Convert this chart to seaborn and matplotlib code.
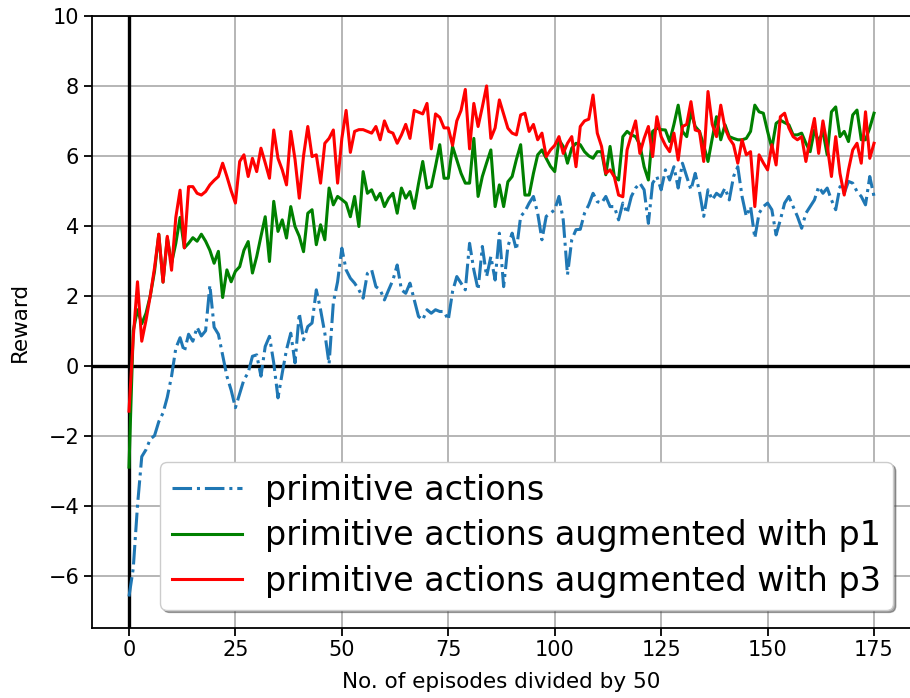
import matplotlib
matplotlib.use("Agg")
import matplotlib.pyplot as plt
import seaborn as sns
import pandas as pd
import numpy as np

episodes = list(range(176))

primitive = [
    -6.6, -5.8, -4.0, -2.6, -2.4, -2.1, -2.0, -1.6, -1.35, -0.9,
    -0.3, 0.5, 0.8, 0.4, 0.9, 0.7, 1.1, 0.85, 1.0, 2.3,
    1.1, 0.9, 0.3, -0.3, -0.7, -1.2, -0.8, -0.4, -0.2, 0.27,
    0.31, -0.3, 0.55, 0.84, 0.08, -0.92, -0.21, 0.46, 0.93, 0.08,
    1.5, 0.74, 1.12, 1.22, 2.17, 1.6, 0.93, 0.05, 1.8, 2.4,
    3.36, 2.74, 2.5, 2.36, 2.17, 1.93, 2.64, 2.74, 2.26, 2.17,
    1.88, 2.17, 2.45, 2.88, 2.17, 2.07, 2.36, 1.88, 1.41, 1.31,
    1.6, 1.5, 1.6, 1.55, 1.55, 1.31, 2.12, 2.55, 2.36, 2.17,
    3.5, 2.74, 2.17, 3.41, 2.55, 3.12, 2.45, 3.79, 2.26, 3.41,
    3.79, 3.31, 4.27, 4.41, 4.65, 4.84, 4.36, 3.6, 4.27, 4.36,
    4.46, 4.84, 4.17, 2.6, 3.6, 3.89, 3.9, 4.36, 4.6, 4.93,
    4.69, 4.65, 4.84, 4.55, 4.55, 4.17, 4.65, 4.36, 4.84, 5.08,
    5.22, 5.03, 4.07, 5.22, 5.41, 5.03, 5.6, 5.31, 5.69, 5.08,
    5.79, 5.41, 5.03, 5.5, 4.98, 4.27, 5.03, 4.74, 4.93, 4.84,
    5.08, 4.74, 5.41, 5.69, 4.84, 4.27, 4.55, 3.65, 4.36, 4.55,
    4.65, 4.46, 3.74, 4.17, 4.65, 4.84, 4.55, 4.27, 3.93, 4.36,
    4.55, 4.74, 5.12, 4.93, 5.08, 4.74, 4.46, 5.12, 4.93, 5.27,
    5.22, 4.98, 4.84, 4.6, 5.41, 4.84,
]

aug_p1 = [
    -2.9, 1.0, 1.6, 1.2, 1.5, 2.0, 2.7, 3.76, 2.39, 3.66,
    2.93, 3.5, 4.24, 3.37, 3.5, 3.66, 3.56, 3.76, 3.56, 3.3,
    2.93, 3.27, 1.95, 2.74, 2.4, 2.7, 2.83, 3.3, 3.55, 2.65,
    3.12, 3.7, 4.26, 2.98, 4.7, 3.84, 4.17, 3.65, 4.55, 3.98,
    3.7, 3.26, 4.36, 4.46, 3.46, 4.03, 3.6, 5.08, 4.6, 4.84,
    4.75, 4.65, 4.26, 4.84, 3.98, 5.55, 4.93, 5.03, 4.74, 4.93,
    4.55, 4.79, 4.93, 4.36, 5.08, 4.79, 4.98, 4.5, 5.2, 5.84,
    5.08, 5.12, 5.7, 6.32, 5.36, 5.36, 6.27, 5.88, 5.5, 5.22,
    5.22, 6.5, 4.84, 5.41, 5.8, 6.17, 4.55, 5.17, 4.55, 5.26,
    5.41, 5.9, 6.32, 4.88, 4.88, 5.5, 6.03, 6.17, 5.93, 5.7,
    5.55, 6.46, 6.27, 5.79, 6.22, 6.36, 6.32, 6.12, 6.0, 5.93,
    6.12, 6.12, 5.46, 6.27, 5.41, 5.31, 6.55, 6.7, 6.6, 6.55,
    6.32, 5.69, 5.31, 6.7, 6.79, 6.75, 6.74, 6.41, 6.9, 7.45,
    6.7, 6.55, 7.26, 6.84, 6.7, 6.3, 5.84, 6.5, 7.12, 6.46,
    6.89, 6.55, 6.5, 6.46, 6.46, 6.5, 6.7, 7.45, 7.26, 7.22,
    6.7, 6.22, 6.93, 7.02, 6.95, 6.89, 6.6, 6.6, 6.65, 6.36,
    6.12, 6.74, 6.41, 6.7, 6.03, 7.26, 7.4, 6.55, 6.7, 6.41,
    7.17, 7.31, 6.46, 6.46, 6.8, 7.22,
]

aug_p3 = [
    -1.3, 0.8, 2.4, 0.7, 1.3, 2.0, 2.8, 3.76, 2.39, 3.7,
    2.73, 4.24, 5.02, 3.37, 5.12, 5.12, 4.93, 4.88, 4.98, 5.17,
    5.3, 5.41, 5.79, 5.41, 5.0, 4.65, 5.84, 6.03, 5.41, 5.93,
    5.55, 6.22, 5.8, 5.36, 6.74, 5.93, 5.6, 5.17, 6.7, 5.9,
    4.79, 6.0, 6.84, 5.98, 6.03, 5.22, 6.36, 6.5, 6.74, 5.22,
    6.5, 7.3, 6.1, 6.7, 6.75, 6.75, 6.7, 6.65, 6.84, 6.46,
    7.0, 6.7, 6.65, 6.36, 6.6, 6.9, 6.5, 7.3, 7.25, 7.2,
    7.5, 6.2, 7.2, 7.1, 6.8, 6.8, 6.3, 7.0, 7.3, 7.9,
    6.2, 7.5, 6.84, 7.4, 8.0, 6.5, 6.8, 7.6, 7.2, 6.79,
    6.65, 6.6, 7.17, 7.22, 6.7, 6.9, 6.46, 6.65, 5.98, 6.17,
    6.3, 6.55, 6.07, 6.36, 6.55, 5.69, 6.84, 7.0, 7.05, 7.74,
    6.65, 6.27, 5.5, 5.6, 5.4, 4.88, 4.83, 6.17, 6.6, 7.0,
    6.07, 6.5, 6.84, 5.98, 7.12, 6.55, 6.3, 6.12, 6.65, 5.88,
    6.84, 6.9, 7.55, 6.74, 6.7, 5.84, 7.84, 6.9, 6.55, 7.45,
    6.79, 6.5, 6.32, 5.79, 6.46, 6.03, 6.12, 4.55, 6.03, 5.8,
    5.6, 6.32, 5.74, 7.12, 7.22, 6.8, 6.55, 6.46, 6.55, 5.84,
    6.5, 7.07, 6.07, 7.0, 6.3, 5.41, 6.55, 5.5, 4.88, 5.6,
    6.17, 6.36, 5.79, 7.26, 5.93, 6.36,
]

labels = [
    "primitive actions",
    "primitive actions augmented with p1",
    "primitive actions augmented with p3",
]
x_label = "No. of episodes divided by 50"
y_label = "Reward"

fig = plt.figure(figsize=(9.1, 6.98), dpi=100)
ax = fig.add_axes([0.1008, 0.1003, 0.9006, 0.8768])

df = pd.DataFrame({"x": episodes, "a": primitive, "b": aug_p1, "c": aug_p3})

ax.grid(True, color="#b0b0b0", linewidth=1.3, zorder=0)
ax.set_axisbelow(True)
ax.axhline(0, color="black", linewidth=2.4, zorder=1)
ax.axvline(0, color="black", linewidth=2.4, zorder=1)

sns.lineplot(data=df, x="x", y="a", ax=ax, color="#1f77b4", linestyle="-.",
             linewidth=2.2, label=labels[0], zorder=3)
sns.lineplot(data=df, x="x", y="b", ax=ax, color="green", linewidth=2.2,
             label=labels[1], zorder=3)
sns.lineplot(data=df, x="x", y="c", ax=ax, color="red", linewidth=2.2,
             label=labels[2], zorder=3)

ax.set_xlim(-8.75, 183.75)
ax.set_ylim(-7.5, 10)
ax.set_xticks([0, 25, 50, 75, 100, 125, 150, 175])
ax.set_yticks([-6, -4, -2, 0, 2, 4, 6, 8, 10])
ax.tick_params(labelsize=15, width=1.3, length=5.5)
for s in ax.spines.values():
    s.set_linewidth(1.3)
ax.set_xlabel(x_label, fontsize=15.5, labelpad=8)
ax.set_ylabel(y_label, fontsize=15.5, labelpad=13)

leg = ax.legend(loc="lower right", fontsize=24, shadow=True, fancybox=True,
                framealpha=1.0, borderaxespad=0.55, handlelength=2.1,
                labelspacing=0.38, handletextpad=0.7, borderpad=0.35)

fig.savefig("out.png", dpi=100)
